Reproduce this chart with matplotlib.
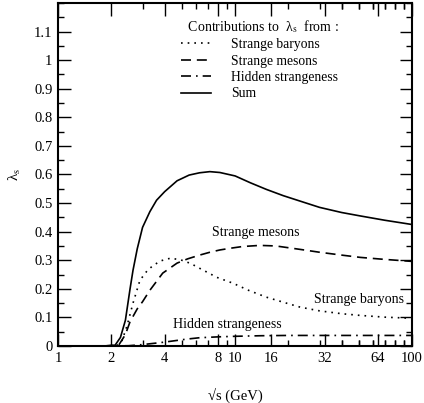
import matplotlib
matplotlib.use("Agg")
from matplotlib import pyplot as plt
from matplotlib.ticker import FixedLocator, FixedFormatter, MultipleLocator
import numpy as np

plt.rcParams['font.family'] = ['Liberation Serif', 'DejaVu Serif']
plt.rcParams['mathtext.fontset'] = 'stix'

## values
sqrt_s_sum = [1.8, 2.1, 2.25, 2.4, 2.55, 2.65, 2.8, 3.0, 3.3, 3.6, 4.0, 4.7, 5.5, 6.3, 7.2, 8.2, 10, 12.2, 15, 18.7, 23, 30, 40, 51, 70, 100]
sum_vals = [0.0, 0.003, 0.03, 0.09, 0.2, 0.265, 0.34, 0.415, 0.47, 0.51, 0.54, 0.578, 0.598, 0.606, 0.61, 0.607, 0.595, 0.571, 0.548, 0.526, 0.508, 0.485, 0.467, 0.455, 0.44, 0.425]

sqrt_s_bar = [1.8, 2.15, 2.3, 2.45, 2.65, 2.9, 3.2, 3.45, 3.8, 4.3, 4.9, 5.6, 6.3, 7.9, 9.7, 12, 15, 19, 23.3, 30, 40, 51, 70, 100]
baryons = [0.0, 0.002, 0.02, 0.07, 0.15, 0.23, 0.265, 0.282, 0.298, 0.307, 0.302, 0.289, 0.272, 0.24, 0.22, 0.194, 0.171, 0.152, 0.136, 0.123, 0.113, 0.107, 0.101, 0.097]

sqrt_s_mes = [1.8, 2.2, 2.4, 2.55, 2.8, 3.0, 3.3, 3.9, 4.7, 5.4, 6.3, 7.2, 8.2, 9.4, 11, 13.8, 17, 23.3, 30, 40, 51, 70, 100]
mesons = [0.0, 0.003, 0.04, 0.085, 0.13, 0.155, 0.195, 0.255, 0.29, 0.305, 0.318, 0.328, 0.336, 0.342, 0.348, 0.352, 0.35, 0.338, 0.328, 0.318, 0.31, 0.303, 0.296]

sqrt_s_hid = [1.8, 2.5, 3.0, 3.8, 4.5, 5.3, 6.3, 8.0, 10, 14, 20, 32, 50, 100]
hidden = [0.0, 0.001, 0.005, 0.012, 0.018, 0.024, 0.029, 0.032, 0.034, 0.036, 0.037, 0.037, 0.037, 0.037]

x_ticks = [1, 2, 4, 8, 10, 16, 32, 64, 100]
x_labels = ['1', '2', '4', '8', '10', '16', '32', '64', '100']
y_ticks = [0, 0.1, 0.2, 0.3, 0.4, 0.5, 0.6, 0.7, 0.8, 0.9, 1.0, 1.1]
y_labels = ['0', '0.1', '0.2', '0.3', '0.4', '0.5', '0.6', '0.7', '0.8', '0.9', '1', '1.1']

## plot
fig = plt.figure(figsize=(4.24, 4.03), dpi=100)
ax = fig.add_axes([0.137, 0.1414, 0.835, 0.8512])

lw = 1.2
ax.plot(sqrt_s_bar, baryons, color='black', lw=lw, linestyle=(0, (1, 3)), label='Strange baryons')
ax.plot(sqrt_s_mes, mesons, color='black', lw=lw, linestyle=(0, (6, 3.5)), label='Strange mesons')
ax.plot(sqrt_s_hid, hidden, color='black', lw=lw, linestyle=(0, (6, 3, 1, 3)), label='Hidden strangeness')
ax.plot(sqrt_s_sum, sum_vals, color='black', lw=lw, label='Sum')

ax.set_xscale('log')
ax.set_xlim(1, 100)
ax.set_ylim(0, 1.2)

ax.xaxis.set_major_locator(FixedLocator(x_ticks))
ax.xaxis.set_major_formatter(FixedFormatter(x_labels))
minor_x = [v * d for d in (1, 10) for v in range(3, 10)] + [20, 40, 50, 60, 70, 80, 90]
ax.xaxis.set_minor_locator(FixedLocator(minor_x))
ax.xaxis.set_minor_formatter(FixedFormatter([''] * len(minor_x)))
ax.yaxis.set_major_locator(FixedLocator(y_ticks))
ax.yaxis.set_major_formatter(FixedFormatter(y_labels))
ax.yaxis.set_minor_locator(MultipleLocator(0.05))

ax.tick_params(which='both', direction='in', top=True, right=True, labelsize=10.5, width=1.0, color='black')
ax.tick_params(which='major', length=9, pad=4)
ax.tick_params(which='minor', length=4.5)
for sp in ax.spines.values():
    sp.set_linewidth(1.5)

ax.set_xlabel('\u221as (GeV)', fontsize=10.5, labelpad=17)
ax.set_ylabel('\u03bb$_{\\mathrm{s}}$', fontsize=11, labelpad=8)

leg = ax.legend(title='  Contributions to  \u03bb$_{\\mathrm{s}}$  from :', loc='upper right',
                bbox_to_anchor=(0.827, 0.99), frameon=False, fontsize=9.8, title_fontsize=10,
                handlelength=2.2, handletextpad=1.5, labelspacing=0.25, alignment='left')
leg._legend_box.sep = 2

ax.text(13, 0.396, 'Strange mesons', fontsize=10, ha='center', va='center')
ax.text(90, 0.161, 'Strange baryons', fontsize=10, ha='right', va='center')
ax.text(4.47, 0.077, 'Hidden strangeness', fontsize=10, ha='left', va='center')

plt.savefig('out.png', dpi=100)
